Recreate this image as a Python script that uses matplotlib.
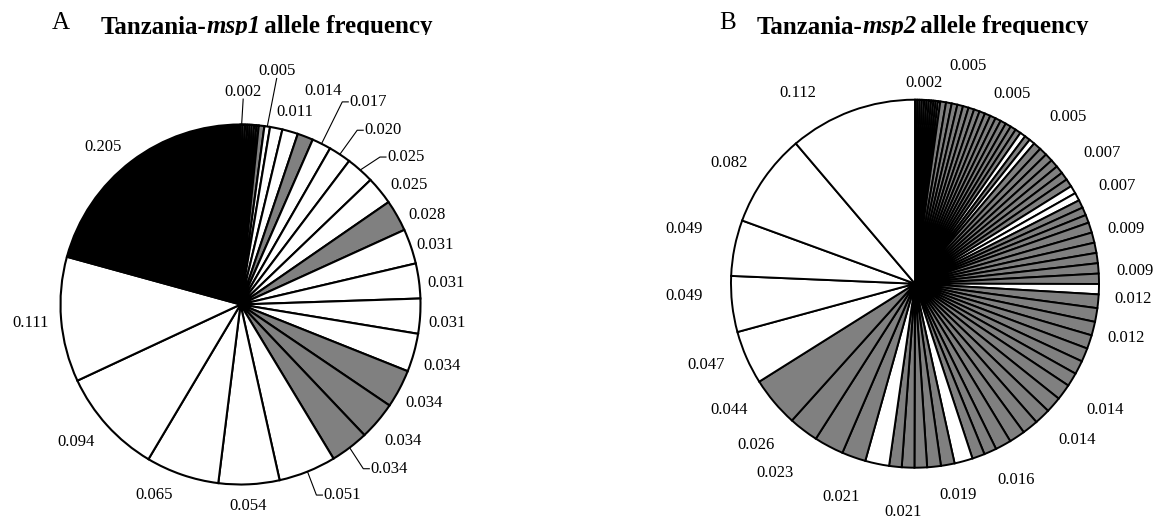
import matplotlib.pyplot as plt
import numpy as np
from matplotlib.transforms import Bbox, TransformedBbox

plt.rcParams['font.family'] = ['Liberation Serif', 'DejaVu Serif']

W, H = 1162, 521

# ---- panel A : Tanzania msp1, slices clockwise from 12 o'clock ----
a_freq = [0.002, 0.002, 0.002, 0.002, 0.002, 0.002, 0.002, 0.002,
          0.005, 0.005, 0.011, 0.014, 0.014, 0.017, 0.020, 0.025, 0.025,
          0.028, 0.031, 0.031, 0.031, 0.034, 0.034, 0.034, 0.034,
          0.051, 0.054, 0.065, 0.094, 0.111, 0.205]
a_family = ['w', 'w', 'w', 'w', 'w', 'w', 'w', 'w',
            'g', 'w', 'w', 'w', 'g', 'w', 'w', 'w', 'w',
            'g', 'w', 'w', 'w', 'w', 'g', 'g', 'g',
            'w', 'w', 'w', 'w', 'w', 'k']
# slices that carry a value label
a_labelled = [0, 9, 10, 11, 13, 14, 15, 16, 17, 18, 19, 20, 21, 22, 23,
              24, 25, 26, 27, 28, 29, 30]

# ---- panel B : Tanzania msp2 ----
b_freq = [0.002, 0.002, 0.002, 0.002, 0.002, 0.002, 0.002, 0.002, 0.002, 0.002, 0.002,
          0.005, 0.005, 0.005, 0.005, 0.005, 0.005, 0.005, 0.005, 0.005, 0.005,
          0.005, 0.005, 0.005, 0.005, 0.005, 0.005, 0.005, 0.005,
          0.007, 0.007, 0.007, 0.007, 0.007, 0.007, 0.007, 0.007, 0.007, 0.007, 0.007, 0.007,
          0.009, 0.009, 0.009, 0.009, 0.009, 0.009, 0.009,
          0.012, 0.012, 0.012, 0.012, 0.012, 0.012, 0.012,
          0.014, 0.014, 0.014, 0.014, 0.014, 0.014,
          0.011, 0.011, 0.016,
          0.012, 0.012, 0.011, 0.011, 0.011, 0.021,
          0.021, 0.026, 0.026,
          0.044, 0.047, 0.049, 0.049, 0.082, 0.112]
b_family = ['g', 'g', 'g', 'g', 'g', 'g', 'g', 'g', 'g', 'g', 'w',
            'g', 'g', 'g', 'g', 'g', 'g', 'g', 'g', 'g', 'g',
            'g', 'g', 'g', 'g', 'g', 'w', 'g', 'w',
            'g', 'g', 'g', 'g', 'g', 'g', 'g', 'w', 'w', 'g', 'g', 'g',
            'g', 'g', 'g', 'g', 'g', 'g', 'w',
            'g', 'g', 'g', 'g', 'g', 'g', 'g',
            'g', 'g', 'g', 'g', 'g', 'g',
            'g', 'g', 'w',
            'g', 'g', 'g', 'g', 'g', 'w',
            'g', 'g', 'g',
            'g', 'w', 'w', 'w', 'w', 'w']
b_labels = ['0.002', '0.005', '0.005', '0.005', '0.007', '0.007', '0.009', '0.009',
            '0.012', '0.012', '0.014', '0.014', '0.016', '0.019', '0.021', '0.021',
            '0.023', '0.026', '0.044', '0.047', '0.049', '0.049', '0.082', '0.112']

# ---- layout (label placement: fraction of turn clockwise from top, radius) ----
a_label_pos = [(0.002, 1.18), (0.0245, 1.31), (0.044, 1.11), (0.059, 1.27),
               (0.0894, 1.33), (0.109, 1.25), (0.134, 1.23), (0.152, 1.15),
               (0.179, 1.15), (0.203, 1.13), (0.2336, 1.15), (0.2645, 1.15),
               (0.297, 1.17), (0.3286, 1.16), (0.3614, 1.18), (0.383, 1.23),
               (0.422, 1.20), (0.494, 1.12), (0.568, 1.16), (0.639, 1.19),
               (0.736, 1.17), (0.886, 1.16)]
a_leader = {0: 'below', 9: 'below', 13: 'left', 14: 'left', 15: 'left',
            24: 'left', 25: 'left'}
b_label_pos = [(0.007, 1.09), (0.038, 1.22), (0.075, 1.16), (0.118, 1.23),
               (0.153, 1.24), (0.178, 1.22), (0.210, 1.185), (0.241, 1.20),
               (0.261, 1.19), (0.290, 1.185), (0.343, 1.24), (0.372, 1.225),
               (0.424, 1.20), (0.468, 1.17), (0.508, 1.24), (0.553, 1.225),
               (0.601, 1.28), (0.624, 1.23), (0.655, 1.22), (0.691, 1.22),
               (0.7415, 1.257), (0.787, 1.29), (0.842, 1.205), (0.912, 1.215)]

fill = {'w': 'white', 'g': '#808080', 'k': 'black'}
LAB_FS = 12

fig = plt.figure(figsize=(W / 100, H / 100), dpi=100)


def pie_axes(cx, cy, r, lim=1.5):
    ax = fig.add_axes([(cx - lim * r) / W, (H - cy - lim * r) / H,
                       2 * lim * r / W, 2 * lim * r / H])
    return ax


def polar(turn, rad):
    a = 2 * np.pi * turn
    return rad * np.sin(a), rad * np.cos(a)


def draw_pie(ax, freq, family, lw):
    wedges, _ = ax.pie(freq, colors=[fill[f] for f in family], startangle=90,
                       counterclock=False,
                       wedgeprops=dict(edgecolor='black', linewidth=lw))
    ax.set_aspect('auto')
    ax.set_xlim(-1.5, 1.5)
    ax.set_ylim(-1.5, 1.5)
    ax.axis('off')
    return wedges


axA = pie_axes(240.5, 304.5, 180)
wedA = draw_pie(axA, a_freq, a_family, 1.5)
textsA = {}
for idx, (turn, rad) in zip(a_labelled, a_label_pos):
    x, y = polar(turn, rad)
    textsA[idx] = axA.text(x, y, f"{a_freq[idx]:.3f}", ha='center', va='center',
                           fontsize=LAB_FS)

axB = pie_axes(915, 283.7, 184)
draw_pie(axB, b_freq, b_family, 1.4)
for txt, (turn, rad) in zip(b_labels, b_label_pos):
    x, y = polar(turn, rad)
    axB.text(x, y, txt, ha='center', va='center', fontsize=LAB_FS)

# titles, clipped along the bottom like the original
clip = TransformedBbox(Bbox([[0, (H - 35) / H], [1, 1]]), fig.transFigure)
renderer = fig.canvas.get_renderer()


def panel_title(x_letter, x_title, letter, gene):
    fig.text(x_letter / W, 1 - 29 / H, letter, fontsize=18, va='baseline')
    x = x_title
    for part, style, kern in [('Tanzania-', 'normal', 0), (gene, 'italic', -3),
                              (' allele frequency', 'normal', 0)]:
        t = fig.text(x / W, 1 - 33.5 / H, part, fontsize=18, weight='bold',
                     style=style, va='baseline')
        t.set_clip_box(clip)
        t.set_clip_on(True)
        x = t.get_window_extent(renderer).x1 + kern


panel_title(52, 101, 'A', 'msp1')
panel_title(719, 757, 'B', 'msp2')

# leader lines for the displaced labels of panel A
inv = axA.transData.inverted()
for idx, kind in a_leader.items():
    w = wedA[idx]
    mid = np.deg2rad((w.theta1 + w.theta2) / 2)
    rim = (np.cos(mid), np.sin(mid))
    bb = textsA[idx].get_window_extent(renderer)
    yc = (bb.y0 + bb.y1) / 2
    if kind == 'left':
        pts = inv.transform([(bb.x0 - 1, yc), (bb.x0 - 7, yc)])
    else:
        pts = inv.transform([((bb.x0 + bb.x1) / 2, bb.y0 + 1)])
    xs = list(pts[:, 0]) + [rim[0]]
    ys = list(pts[:, 1]) + [rim[1]]
    axA.plot(xs, ys, color='black', lw=0.8)

fig.savefig('out.png', dpi=100)
